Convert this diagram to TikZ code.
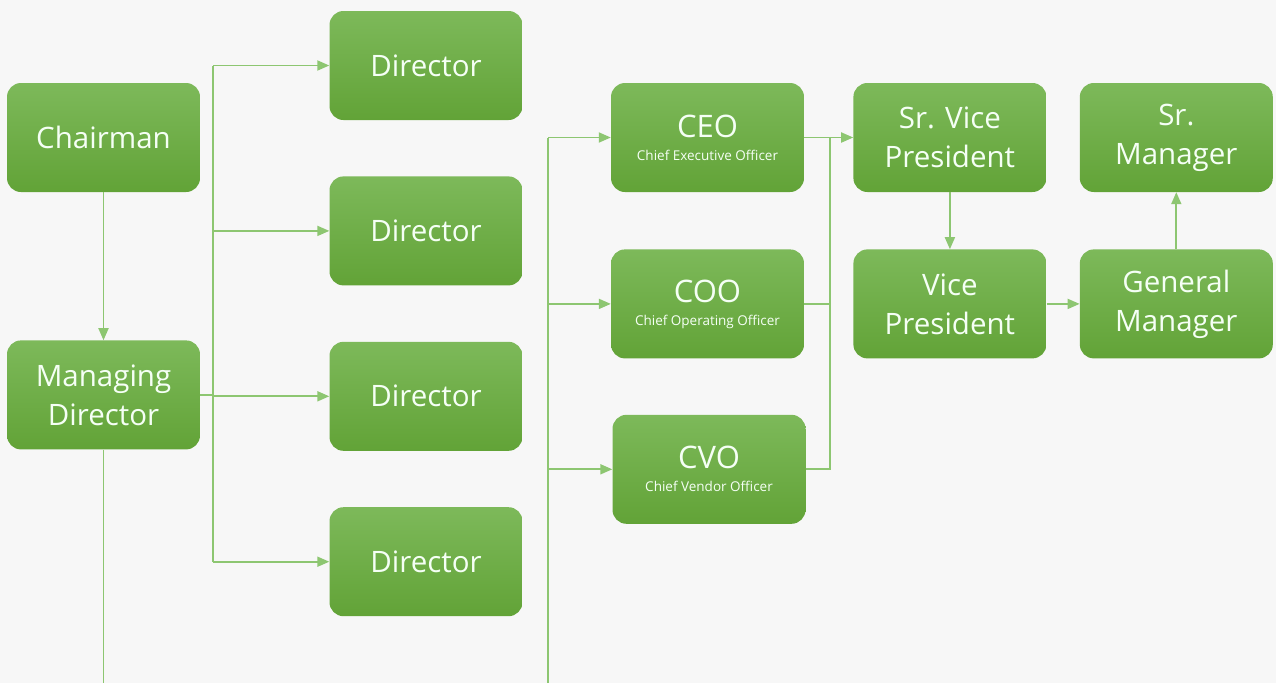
\documentclass[tikz,border=0pt]{standalone}
\usepackage{fontspec}
\setmainfont{Open Sans}
\usepackage{tikz}
\usetikzlibrary{arrows.meta,positioning}
\definecolor{boxtop}{HTML}{7DB95A}
\definecolor{boxbot}{HTML}{62A337}
\definecolor{linkgreen}{HTML}{8DC671}
\definecolor{bg}{HTML}{F7F7F7}
\tikzset{
    %Define standard arrow tip
    >={Triangle[length=12pt,width=10pt]},
    %Define style for boxes
    post/.style={
           rectangle,
           rounded corners=14pt,
           top color=boxtop, bottom color=boxbot,
           draw=none,
           minimum width=193pt,
           minimum height=109pt,
           align=center,
           text=white!96!green,
           font=\fontsize{29.5}{39}\selectfont},
    % Define line styles
    link/.style={
           draw=linkgreen,
           line width=1.8pt},
    pil/.style={
           link, ->,
           color=linkgreen}
}
\newcommand{\officer}[2]{{\fontsize{31}{33}\selectfont #1}\\[-16pt]{\fontsize{13.5}{15}\selectfont #2}}
\begin{document}
\begin{tikzpicture}[x=1pt,y=1pt]
\fill[bg] (0,0) rectangle (1276,-683);
\useasboundingbox (0,0) rectangle (1276,-683);
% left part
\node[post] (chair) at (103.5,-137.5) {Chairman};
\node[post, below=148pt of chair] (md) {Managing\\Director};
\node[post] (d1) at (426,-65.5) {Director};
\node[post, below=56pt of d1] (d2) {Director};
\node[post, below=56pt of d2] (d3) {Director};
\node[post, below=56pt of d3] (d4) {Director};
% officers
\node[post] (ceo) at (707.5,-137.5) {\officer{CEO}{Chief Executive Officer}};
\node[post, below=57pt of ceo] (coo) {\officer{COO}{Chief Operating Officer}};
\node[post, below=56pt of coo, xshift=1.5pt] (cvo) {\officer{CVO}{Chief Vendor Officer}};
% right part
\node[post, right=49pt of ceo] (svp) {Sr. Vice\\President};
\node[post, below=57pt of svp] (vp) {Vice\\President};
\node[post, right=33pt of svp] (srm) {Sr.\\Manager};
\node[post, below=57pt of srm] (gm) {General\\Manager};
\coordinate (bus2) at (548,-683);
\coordinate (bus3) at (830,0);
\coordinate (foot) at (0,-683);
% connectors
\draw[pil] (chair) -- (md);
\draw[link] (md.south) -- (md.south |- foot);
\draw[link] (md.east) -- ++(13,0) coordinate (bus1);
\draw[link] (bus1 |- d1) -- (bus1 |- d4);
\foreach \d in {d1,d2,d3,d4}
  \draw[pil] (bus1 |- \d) -- (\d.west);
\draw[link] (bus2) -- (bus2 |- ceo);
\foreach \o in {ceo,coo,cvo}
  \draw[pil] (bus2 |- \o) -- (\o.west);
\draw[pil] (ceo.east) -- (svp.west);
\draw[link] (coo.east) -- (bus3 |- coo);
\draw[link] (cvo.east) -| (bus3 |- ceo);
\draw[pil] (svp) -- (vp);
\draw[pil] (vp) -- (gm);
\draw[pil] (gm) -- (srm);
\end{tikzpicture}
\end{document}
